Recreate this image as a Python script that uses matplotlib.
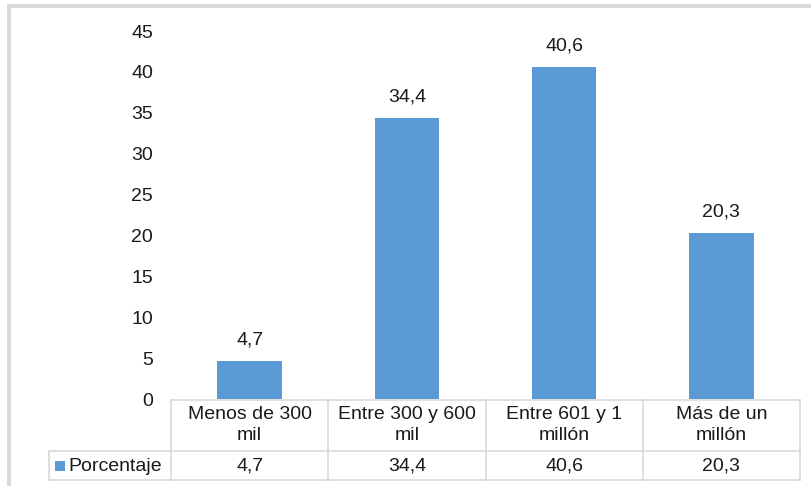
import matplotlib
matplotlib.use("Agg")
import matplotlib.pyplot as plt
from matplotlib.patches import Rectangle
from matplotlib.lines import Line2D
import matplotlib.transforms as mtransforms

plt.rcParams['font.family'] = ['Liberation Sans', 'DejaVu Sans']

categories = ["Menos de 300\nmil", "Entre 300 y 600\nmil", "Entre 601 y 1\nmillón", "Más de un\nmillón"]
values = [4.7, 34.4, 40.6, 20.3]
value_labels = ["4,7", "34,4", "40,6", "20,3"]
series_name = "Porcentaje"
yticks = [0, 5, 10, 15, 20, 25, 30, 35, 40, 45]

W, H = 812, 486
fig = plt.figure(figsize=(W / 100, H / 100), dpi=100)
FS = 14
TC = '#1a1a1a'

def fx(px):
    return px / W

def fy(py):
    return 1 - py / H

# outer border (cropped on right and bottom)
fig.patches.append(Rectangle((fx(9), fy(500)), fx(900), fy(6) - fy(500), transform=fig.transFigure,
                             fill=False, edgecolor='#d9d9d9', linewidth=2.8))

ax = fig.add_axes([fx(171), fy(399), fx(800) - fx(171), fy(31) - fy(399)])
color = '#5b9bd5'
x = list(range(len(categories)))
ax.bar(x, values, width=0.41, color=color)
ax.set_xlim(-0.5, len(categories) - 0.5)
ax.set_ylim(0, 45)
ax.set_yticks(yticks)
ax.set_yticklabels([str(t) for t in yticks], fontsize=FS, color=TC)
ax.tick_params(axis='y', length=0, pad=13)
ax.set_xticks([])
for s in ax.spines.values():
    s.set_visible(False)

for xi, v, lab in zip(x, values, value_labels):
    ax.annotate(lab, (xi, v), xytext=(0, 9), textcoords='offset points',
                ha='center', va='bottom', fontsize=FS, color=TC)

# data table
lc = '#d9d9d9'
lw = 1.2
trans = mtransforms.blended_transform_factory(ax.transData, fig.transFigure)
y_top, y_mid, y_bot = fy(400), fy(451), fy(480)
x_left_fig = fx(49)
fig.add_artist(Line2D([fx(171), fx(800)], [y_top, y_top], transform=fig.transFigure, color=lc, lw=lw))
fig.add_artist(Line2D([x_left_fig, fx(800)], [y_mid, y_mid], transform=fig.transFigure, color=lc, lw=lw))
fig.add_artist(Line2D([x_left_fig, fx(800)], [y_bot, y_bot], transform=fig.transFigure, color=lc, lw=lw))
fig.add_artist(Line2D([x_left_fig, x_left_fig], [y_mid, y_bot], transform=fig.transFigure, color=lc, lw=lw))
for b in [i - 0.5 for i in range(len(categories) + 1)]:
    fig.add_artist(Line2D([b, b], [y_top, y_bot], transform=trans, color=lc, lw=lw))

for xi, cat, lab in zip(x, categories, value_labels):
    fig.text(xi, fy(425), cat, transform=trans, ha='center', va='center', fontsize=FS,
             color=TC, linespacing=1.35)
    fig.text(xi, fy(466), lab, transform=trans, ha='center', va='center', fontsize=FS,
             color=TC)

fig.patches.append(Rectangle((fx(55), fy(471)), fx(10), fy(461) - fy(471), transform=fig.transFigure,
                             facecolor=color, edgecolor='none'))
fig.text(fx(68), fy(466), series_name, ha='left', va='center', fontsize=FS, color=TC)

fig.savefig("out.png", dpi=100)
